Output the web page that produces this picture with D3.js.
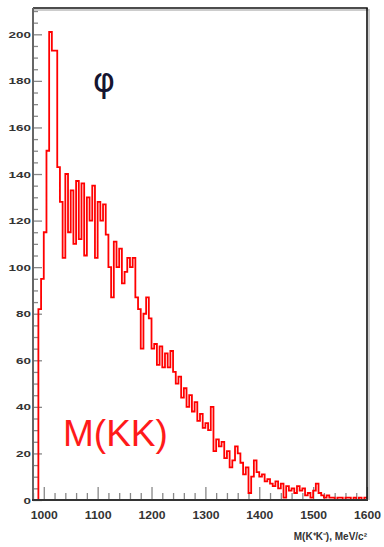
<!DOCTYPE html>
<html><head><meta charset="utf-8">
<script src="https://cdn.jsdelivr.net/npm/d3@7"></script>
<style>html,body{margin:0;padding:0;background:#fff;}svg{display:block;}</style>
</head><body>
<svg id="c" width="384" height="547"></svg>
<script>
// Histogram: M(K+K-) in MeV/c^2, 5 MeV bins starting at 980
const binStart = 980;
const binWidth = 5;
const counts = [
  0, 0, 82, 95, 115, 150, 201, 193, 193, 143,
  128, 104, 140, 115, 133, 110, 137, 112, 136, 105,
  130, 120, 135, 104, 128, 120, 127, 114, 100, 87,
  111, 100, 108, 93, 98, 104, 100, 104, 87, 82,
  65, 80, 87, 78, 65, 67, 58, 66, 57, 63,
  57, 64, 55, 50, 53, 44, 48, 40, 45, 38,
  42, 34, 37, 31, 33, 30, 40, 21, 26, 23,
  25, 18, 21, 14, 17, 23, 20, 16, 11, 14,
  3, 10, 17, 12, 10, 11, 8, 9, 7, 6,
  8, 5, 7, 1, 6, 4, 5, 3, 6, 4,
  5, 2, 3, 1, 4, 7, 3, 2, 1, 2,
  1, 1, 0, 1, 1, 0, 1, 1, 0, 1,
  0, 1, 0, 1
];
const xMajorTicks = [1000, 1100, 1200, 1300, 1400, 1500, 1600];
const yMajorTicks = [0, 20, 40, 60, 80, 100, 120, 140, 160, 180, 200];
const xTitle = "M(K⁺K⁻), MeV/c²";
const peakLabel = "φ";
const plotLabel = "M(KK)";

const svg = d3.select("#c");
const L = 33, R = 367, T = 8, B = 500;
const x = d3.scaleLinear().domain([980, 1600]).range([L, R]);
const y = d3.scaleLinear().domain([0, 211.3]).range([B, T]);

const xMinor = d3.range(980, 1601, 20).filter(v => !xMajorTicks.includes(v));
const yMinor = d3.range(0, 211, 5).filter(v => !yMajorTicks.includes(v));

// minor ticks
svg.append("g").attr("transform", `translate(0,${B})`)
  .call(d3.axisBottom(x).tickValues(xMinor).tickSize(-7).tickFormat(""))
  .call(g => g.select(".domain").remove())
  .selectAll("line").attr("stroke", "#888").attr("stroke-width", 1.3);
svg.append("g").attr("transform", `translate(${L},0)`)
  .call(d3.axisLeft(y).tickValues(yMinor).tickSize(-5).tickFormat(""))
  .call(g => g.select(".domain").remove())
  .selectAll("line").attr("stroke", "#888").attr("stroke-width", 1.3);

// major ticks + labels
const gx = svg.append("g").attr("transform", `translate(0,${B})`)
  .call(d3.axisBottom(x).tickValues(xMajorTicks).tickSize(-13).tickPadding(11).tickFormat(d3.format("d")));
gx.select(".domain").remove();
gx.selectAll("line").attr("stroke", "#888").attr("stroke-width", 1.3);
gx.selectAll("text").attr("font-family", "Liberation Sans, Arial, sans-serif")
  .attr("font-size", 11).attr("font-weight", "bold").attr("fill", "#333")
  .attr("textLength", 27).attr("lengthAdjust", "spacingAndGlyphs");

const gy = svg.append("g").attr("transform", `translate(${L},0)`)
  .call(d3.axisLeft(y).tickValues(yMajorTicks).tickSize(-9).tickPadding(2).tickFormat(d3.format("d")));
gy.select(".domain").remove();
gy.selectAll("line").attr("stroke", "#888").attr("stroke-width", 1.3);
gy.selectAll("text").attr("font-family", "Liberation Sans, Arial, sans-serif")
  .attr("font-size", 9.5).attr("font-weight", "bold").attr("fill", "#333")
  .each(function(d){ const n = String(d).length; d3.select(this).attr("textLength", n*7.5).attr("lengthAdjust","spacingAndGlyphs"); });

// histogram step line
const pts = counts.map((c, i) => [binStart + i*binWidth, c]);
pts.push([binStart + counts.length*binWidth, counts[counts.length-1]]);
const line = d3.line().x(d => x(d[0])).y(d => y(d[1])).curve(d3.curveStepAfter);
svg.append("path").datum(pts).attr("d", line)
  .attr("fill", "none").attr("stroke", "#ff0000").attr("stroke-width", 1.8)
  .attr("stroke-linejoin", "miter");

// frame
svg.append("line").attr("x1", L+1).attr("x2", R+2).attr("y1", T+2).attr("y2", T+2).attr("stroke", "#bbb").attr("stroke-width", 1.5);
svg.append("line").attr("x1", R+2).attr("x2", R+2).attr("y1", T+1).attr("y2", B).attr("stroke", "#bbb").attr("stroke-width", 1.5);
svg.append("line").attr("x1", L).attr("x2", R+0.75).attr("y1", T).attr("y2", T).attr("stroke", "#111").attr("stroke-width", 1.6);
svg.append("line").attr("x1", R).attr("x2", R).attr("y1", T).attr("y2", B).attr("stroke", "#111").attr("stroke-width", 1.6);
svg.append("line").attr("x1", L).attr("x2", L).attr("y1", T).attr("y2", B+1).attr("stroke", "#666").attr("stroke-width", 2);
svg.append("line").attr("x1", L-1).attr("x2", R+1).attr("y1", B).attr("y2", B).attr("stroke", "#333").attr("stroke-width", 2);

// labels
svg.append("text").attr("x", R).attr("y", 540).attr("text-anchor", "end")
  .attr("font-family", "Liberation Sans, Arial, sans-serif").attr("font-size", 10).attr("font-weight", "bold")
  .attr("fill", "#333").text(xTitle);
svg.append("text").attr("x", 104).attr("y", 92).attr("text-anchor", "middle")
  .attr("font-family", "DejaVu Sans, sans-serif").attr("font-size", 34)
  .attr("fill", "#151530").text(peakLabel);
svg.append("text").attr("x", 63).attr("y", 446)
  .attr("font-family", "Liberation Sans, Arial, sans-serif").attr("font-size", 37)
  .attr("fill", "#ff1a1a").text(plotLabel);
</script>
</body></html>
